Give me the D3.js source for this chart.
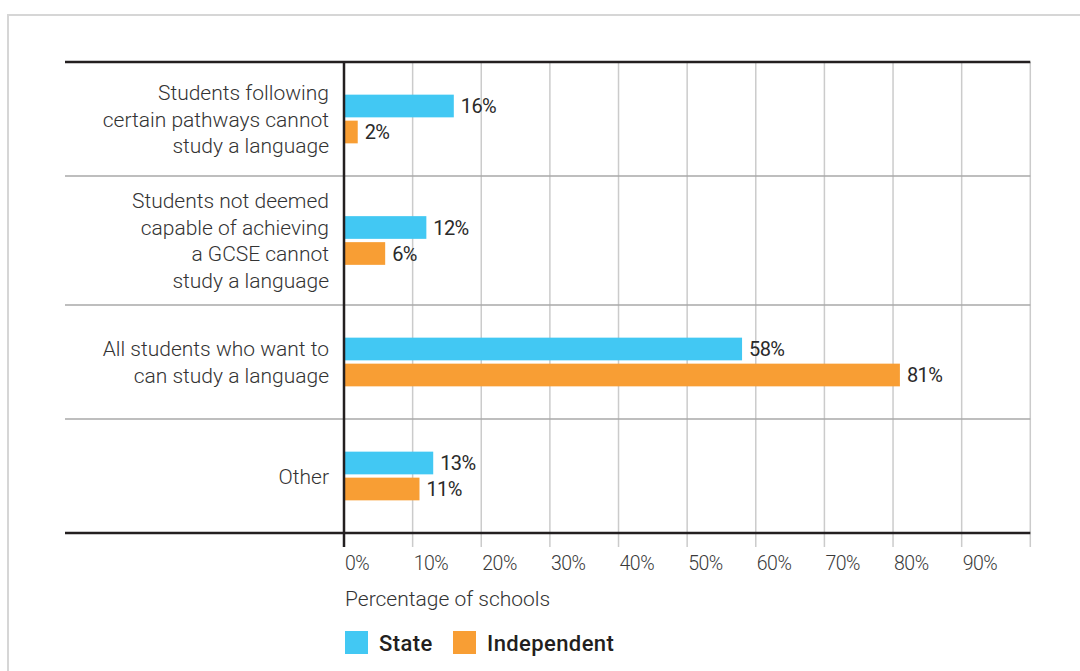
<!DOCTYPE html>
<html>
<head>
<meta charset="utf-8">
<script src="https://cdn.jsdelivr.net/npm/d3@7"></script>
<style>
  html, body { margin: 0; padding: 0; background: #fff; }
  svg { display: block; }
</style>
</head>
<body>
<svg id="chart" width="1080" height="671"></svg>
<script>
// ---- Data ----
const categories = [
  "Students following certain pathways cannot study a language",
  "Students not deemed capable of achieving a GCSE cannot study a language",
  "All students who want to can study a language",
  "Other"
];
const categoryLines = [
  ["Students following", "certain pathways cannot", "study a language"],
  ["Students not deemed", "capable of achieving", "a GCSE cannot", "study a language"],
  ["All students who want to", "can study a language"],
  ["Other"]
];
const seriesNames = ["State", "Independent"];
const stateValues = [16, 12, 58, 13];
const independentValues = [2, 6, 81, 11];
const tickValues = [0, 10, 20, 30, 40, 50, 60, 70, 80, 90, 100];
const tickLabels = ["0%", "10%", "20%", "30%", "40%", "50%", "60%", "70%", "80%", "90%", ""];
const axisTitle = "Percentage of schools";
const colors = ["#42C8F3", "#F89E34"];

// ---- Layout ----
(function () {
const svg = d3.select("#chart");
const pLeft = 344, pRight = 1030.3, pTop = 62, lineLeft = 65;
const lineStep = 26.5;
const FONT = "Roboto, 'Liberation Sans', sans-serif";

const x = d3.scaleLinear().domain([0, 100]).range([pLeft, pRight]);

// row heights depend on how many label lines a category has
const rowH = categoryLines.map(l => Math.max(114, l.length * lineStep + 23));
const rowTop = [];
let acc = pTop;
rowH.forEach(h => { rowTop.push(acc); acc += h; });
const pBottom = acc;
const rowY = d3.scaleOrdinal().domain(categories).range(rowTop);
const rowHeight = d3.scaleOrdinal().domain(categories).range(rowH);
const center = c => rowY(c) + rowHeight(c) / 2;
const barH = 22.7, barGap = 3.3;

// frame
svg.append("rect")
  .attr("x", 8).attr("y", 15).attr("width", 1200).attr("height", 800)
  .attr("fill", "none").attr("stroke", "#d6d6d6").attr("stroke-width", 2);

// vertical gridlines
svg.append("g").selectAll("line").data(tickValues).join("line")
  .attr("x1", d => x(d)).attr("x2", d => x(d))
  .attr("y1", pTop).attr("y2", pBottom + 14)
  .attr("stroke", "#cbcbcb").attr("stroke-width", 1.5);

// category separators
svg.append("g").selectAll("line").data(categories.slice(1)).join("line")
  .attr("x1", lineLeft).attr("x2", pRight)
  .attr("y1", d => rowY(d)).attr("y2", d => rowY(d))
  .attr("stroke", "#a8a8a8").attr("stroke-width", 1.5);

// bars
const data = categories.map((c, i) => ({ c, vals: [stateValues[i], independentValues[i]] }));
const groups = svg.append("g").selectAll("g").data(data).join("g");
groups.each(function(d) {
  const g = d3.select(this);
  const cy = center(d.c);
  d.vals.forEach((v, k) => {
    const by = k === 0 ? cy - barGap / 2 - barH : cy + barGap / 2;
    g.append("rect")
      .attr("x", x(0)).attr("y", by)
      .attr("width", x(v) - x(0)).attr("height", barH)
      .attr("fill", colors[k]);
    g.append("text")
      .attr("x", x(v) + 7).attr("y", by + barH / 2 + 7)
      .attr("font-family", FONT)
      .attr("font-size", 20).attr("letter-spacing", -0.6).attr("fill", "#2a2a2a")
      .text(v + "%");
  });
});

// category labels
svg.append("g").selectAll("text").data(data).join("text")
  .attr("text-anchor", "end")
  .attr("font-family", FONT)
  .attr("font-weight", 300)
  .attr("font-size", 21).attr("fill", "#333")
  .each(function(d, i) {
    const lines = categoryLines[i];
    const cy = center(d.c);
    const n = lines.length;
    d3.select(this).selectAll("tspan").data(lines).join("tspan")
      .attr("x", 329)
      .attr("y", (l, j) => cy + 7.5 + (j - (n - 1) / 2) * lineStep)
      .text(l => l);
  });

// axis lines (black)
svg.append("line").attr("x1", lineLeft).attr("x2", pRight).attr("y1", pTop).attr("y2", pTop)
  .attr("stroke", "#231f20").attr("stroke-width", 2.5);
svg.append("line").attr("x1", lineLeft).attr("x2", pRight).attr("y1", pBottom).attr("y2", pBottom)
  .attr("stroke", "#231f20").attr("stroke-width", 2.5);
svg.append("line").attr("x1", pLeft).attr("x2", pLeft).attr("y1", pTop - 1).attr("y2", pBottom + 14)
  .attr("stroke", "#231f20").attr("stroke-width", 2.5);

// tick labels
svg.append("g").selectAll("text").data(tickValues).join("text")
  .attr("x", d => x(d) + 1).attr("y", 570)
  .attr("font-family", FONT)
  .attr("font-weight", 300)
  .attr("font-size", 19.5).attr("letter-spacing", -0.5).attr("fill", "#3a3a3a")
  .text((d, i) => tickLabels[i]);

// axis title
svg.append("text").attr("x", 345).attr("y", 606)
  .attr("font-family", FONT)
  .attr("font-weight", 300)
  .attr("font-size", 21).attr("fill", "#333")
  .text(axisTitle);

// legend
const legendX = [345, 453];
seriesNames.forEach((s, k) => {
  svg.append("rect").attr("x", legendX[k]).attr("y", 631).attr("width", 23).attr("height", 23)
    .attr("fill", colors[k]);
  svg.append("text").attr("x", legendX[k] + 34).attr("y", 651)
    .attr("font-family", FONT)
    .attr("font-weight", 500).attr("font-size", 22).attr("letter-spacing", 0.4).attr("fill", "#231f20")
    .text(s);
});
})();
</script>
</body>
</html>
